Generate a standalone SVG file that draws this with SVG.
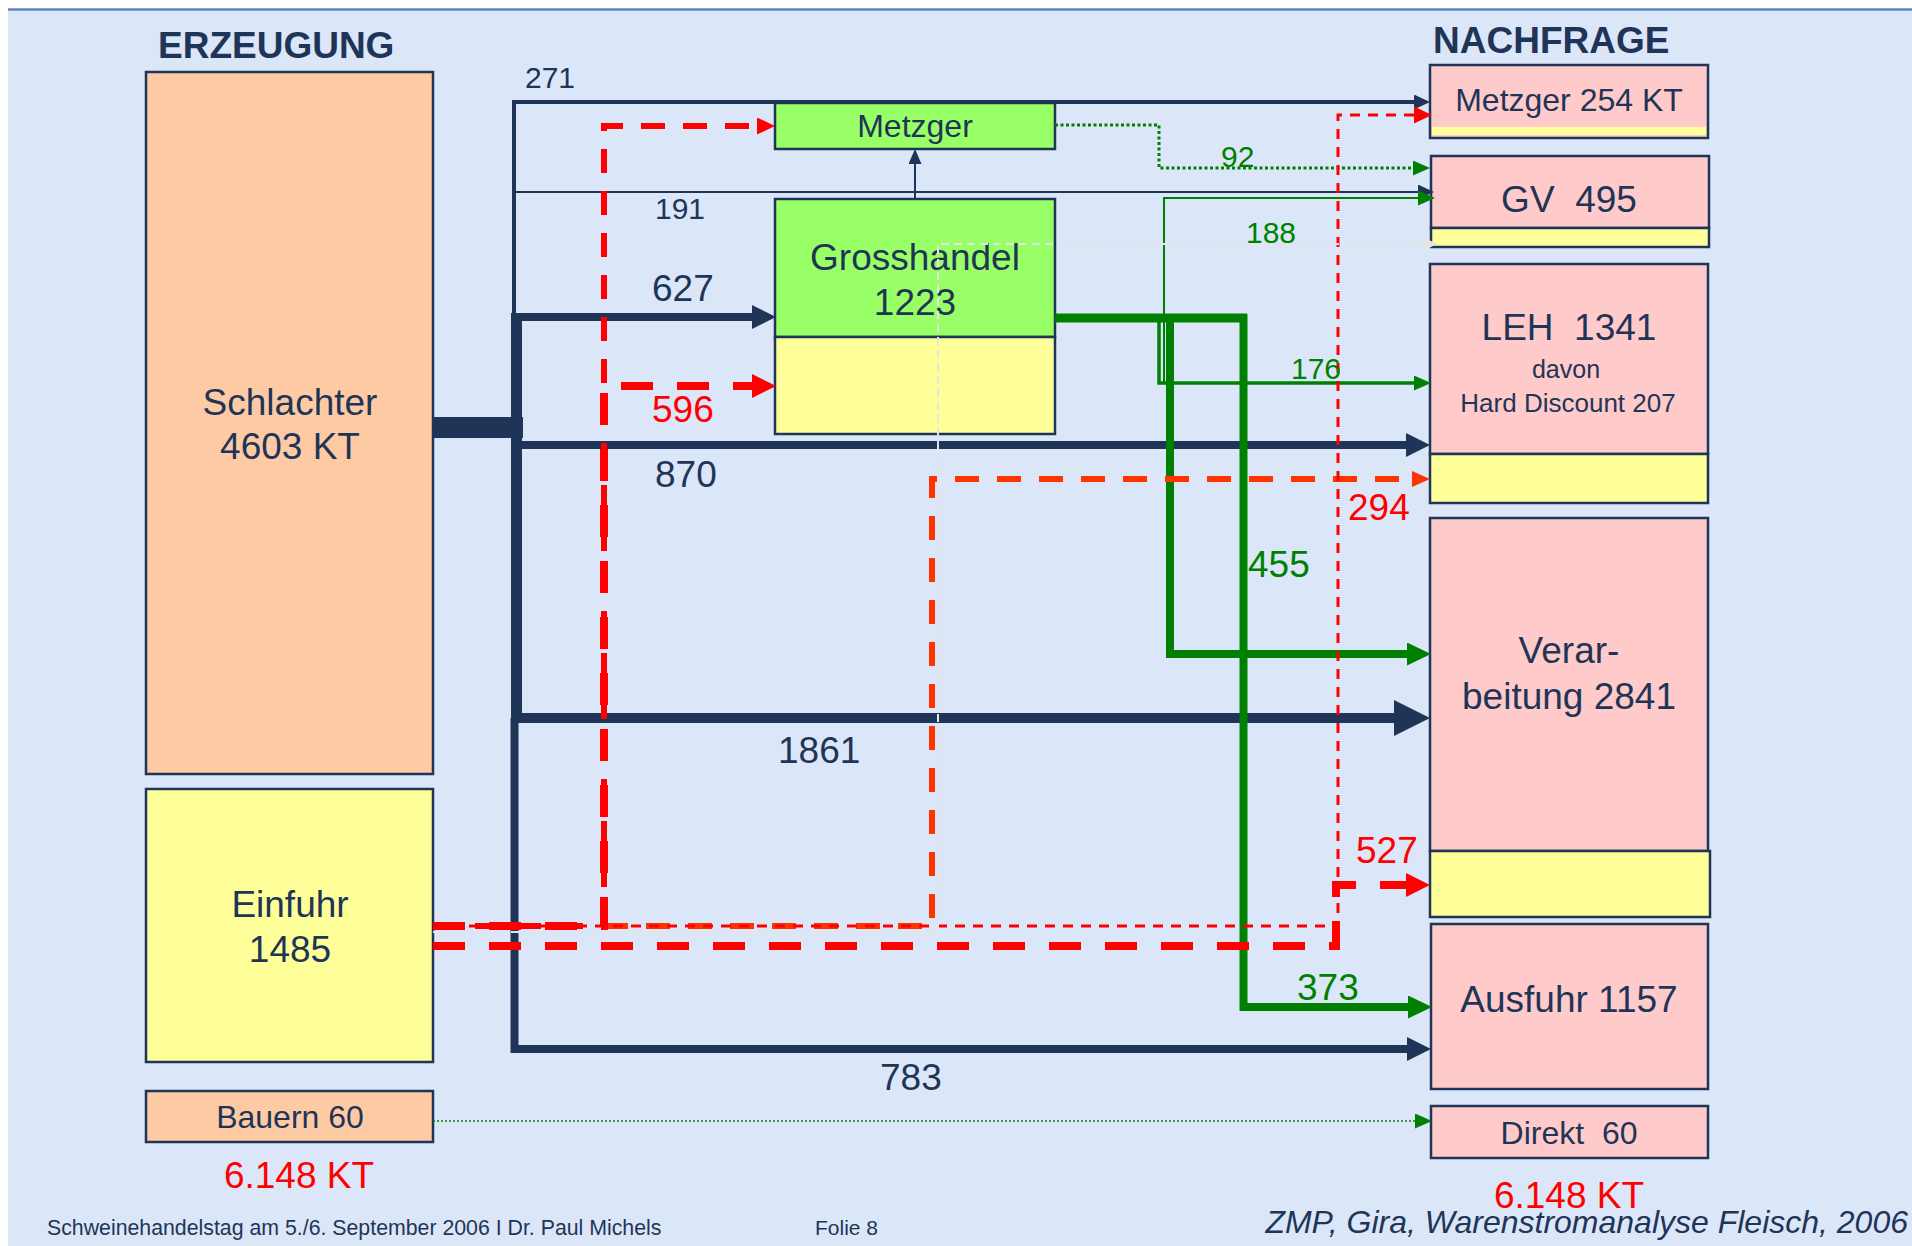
<svg xmlns="http://www.w3.org/2000/svg" width="1912" height="1246" viewBox="0 0 1912 1246">
<style>
text{font-family:"Liberation Sans",Arial,sans-serif;fill:#1f3557}
.c{text-anchor:middle}
.f37{font-size:37px}.f32{font-size:32px}.f30{font-size:30px}.f26{font-size:26px}.f21{font-size:21.3px}
.b{font-weight:bold}
.red{fill:#ff0000}.grn{fill:#008000}
.box{stroke:#1f3557;stroke-width:2.5}
.peach{fill:#fdcaa4}.yel{fill:#ffff99}.lg{fill:#99ff66}.pink{fill:#ffcaca}
.nv{fill:none;stroke:#1f3557}
.gr{fill:none;stroke:#008000}
.rd{fill:none;stroke:#ff0000}
.or{fill:none;stroke:#ff3300}
.gy{fill:none;stroke:#e4e4e4}
</style>
<defs>
<marker id="nvS" markerUnits="userSpaceOnUse" viewBox="0 0 10 10" preserveAspectRatio="none" refX="0" refY="5" markerWidth="16" markerHeight="15" orient="auto"><path d="M0 0L10 5L0 10z" fill="#1f3557"/></marker>
<marker id="nvM" markerUnits="userSpaceOnUse" viewBox="0 0 10 10" preserveAspectRatio="none" refX="0" refY="5" markerWidth="24" markerHeight="24" orient="auto"><path d="M0 0L10 5L0 10z" fill="#1f3557"/></marker>
<marker id="nvL" markerUnits="userSpaceOnUse" viewBox="0 0 10 10" preserveAspectRatio="none" refX="0" refY="5" markerWidth="36" markerHeight="36" orient="auto"><path d="M0 0L10 5L0 10z" fill="#1f3557"/></marker>
<marker id="nvU" markerUnits="userSpaceOnUse" viewBox="0 0 10 10" preserveAspectRatio="none" refX="0" refY="5" markerWidth="15" markerHeight="13" orient="auto"><path d="M0 0L10 5L0 10z" fill="#1f3557"/></marker>
<marker id="grS" markerUnits="userSpaceOnUse" viewBox="0 0 10 10" preserveAspectRatio="none" refX="0" refY="5" markerWidth="17" markerHeight="15" orient="auto"><path d="M0 0L10 5L0 10z" fill="#008000"/></marker>
<marker id="grM" markerUnits="userSpaceOnUse" viewBox="0 0 10 10" preserveAspectRatio="none" refX="0" refY="5" markerWidth="24" markerHeight="23" orient="auto"><path d="M0 0L10 5L0 10z" fill="#008000"/></marker>
<marker id="rdS" markerUnits="userSpaceOnUse" viewBox="0 0 10 10" preserveAspectRatio="none" refX="0" refY="5" markerWidth="18" markerHeight="17" orient="auto"><path d="M0 0L10 5L0 10z" fill="#ff0000"/></marker>
<marker id="rdM" markerUnits="userSpaceOnUse" viewBox="0 0 10 10" preserveAspectRatio="none" refX="0" refY="5" markerWidth="24" markerHeight="24" orient="auto"><path d="M0 0L10 5L0 10z" fill="#ff0000"/></marker>
<marker id="orS" markerUnits="userSpaceOnUse" viewBox="0 0 10 10" preserveAspectRatio="none" refX="0" refY="5" markerWidth="18" markerHeight="16" orient="auto"><path d="M0 0L10 5L0 10z" fill="#ff3300"/></marker>
<marker id="gyS" markerUnits="userSpaceOnUse" viewBox="0 0 10 10" preserveAspectRatio="none" refX="0" refY="5" markerWidth="15" markerHeight="15" orient="auto"><path d="M0 0L10 5L0 10z" fill="#e4e4e4"/></marker>
</defs>

<rect x="0" y="0" width="1912" height="1246" fill="#ffffff"/>
<rect x="8" y="10" width="1904" height="1236" fill="#dbe7f9"/>
<line x1="8" y1="9.5" x2="1912" y2="9.5" stroke="#6283c3" stroke-width="2.4"/>

<g id="title-erzeugung"><text x="158" y="58" class="f37 b">ERZEUGUNG</text></g>
<g id="title-nachfrage"><text x="1433" y="53" class="f37 b">NACHFRAGE</text></g>

<g id="schlachter">
<rect x="146" y="72" width="287" height="702" class="box peach"/>
<text x="290" y="415" class="c f37">Schlachter</text>
<text x="290" y="459" class="c f37">4603 KT</text>
</g>
<g id="einfuhr">
<rect x="146" y="789" width="287" height="273" class="box yel"/>
<text x="290" y="917" class="c f37">Einfuhr</text>
<text x="290" y="962" class="c f37">1485</text>
</g>
<g id="bauern">
<rect x="146" y="1091" width="287" height="51" class="box peach"/>
<text x="290" y="1128" class="c f32">Bauern 60</text>
</g>
<g id="total-erzeugung"><text x="299" y="1188" class="c f37 red">6.148 KT</text></g>

<g id="metzger-mitte">
<rect x="775" y="103" width="280" height="46" class="box lg"/>
<text x="915" y="137" class="c f32">Metzger</text>
</g>
<g id="grosshandel">
<rect x="775" y="199" width="280" height="138" class="box lg"/>
<rect x="775" y="337" width="280" height="97" class="box yel"/>
<text x="915" y="270" class="c f37">Grosshandel</text>
<text x="915" y="315" class="c f37">1223</text>
</g>

<g id="metzger-254">
<rect x="1430" y="65" width="278" height="73" class="box pink"/>
<rect x="1432" y="127" width="274" height="8" fill="#ffff99"/>
<text x="1569" y="111" class="c f32">Metzger 254 KT</text>
</g>
<g id="gv">
<rect x="1431" y="156" width="278" height="72" class="box pink"/>
<rect x="1431" y="228" width="278" height="19" class="box yel"/>
<text x="1569" y="212" class="c f37">GV&#160; 495</text>
</g>
<g id="leh">
<rect x="1430" y="264" width="278" height="190" class="box pink"/>
<rect x="1430" y="454" width="278" height="49" class="box yel"/>
<text x="1569" y="340" class="c f37">LEH&#160; 1341</text>
<text x="1566" y="378" class="c" style="font-size:25px">davon</text>
<text x="1568" y="412" class="c f26">Hard Discount 207</text>
</g>
<g id="verarbeitung">
<rect x="1430" y="518" width="278" height="333" class="box pink"/>
<rect x="1430" y="851" width="280" height="66" class="box yel"/>
<text x="1569" y="663" class="c f37">Verar-</text>
<text x="1569" y="709" class="c f37">beitung 2841</text>
</g>
<g id="ausfuhr">
<rect x="1431" y="924" width="277" height="165" class="box pink"/>
<text x="1569" y="1012" class="c f37">Ausfuhr 1157</text>
</g>
<g id="direkt">
<rect x="1431" y="1106" width="277" height="52" class="box pink"/>
<text x="1569" y="1144" class="c f32">Direkt&#160; 60</text>
</g>
<g id="total-nachfrage"><text x="1569" y="1208" class="c f37 red">6.148 KT</text></g>

<g id="connectors">
<!-- navy flows from Schlachter -->
<rect x="433" y="417" width="90" height="21" fill="#1f3557"/>
<path class="nv" stroke-width="4" d="M514 317V102H1414" marker-end="url(#nvS)"/>
<path class="nv" stroke-width="2" d="M514 192H1418" marker-end="url(#nvS)"/>
<path class="nv" stroke-width="11" d="M516.5 313V722"/>
<path class="nv" stroke-width="8" d="M514 317H752" marker-end="url(#nvM)"/>
<path class="nv" stroke-width="8" d="M516 445H1406" marker-end="url(#nvM)"/>
<path class="nv" stroke-width="10" d="M516 718H1394" marker-end="url(#nvL)"/>
<path class="nv" stroke-width="8" d="M514.5 718V1049H1407" marker-end="url(#nvM)"/>
<path class="nv" stroke-width="2" d="M915 199V164" marker-end="url(#nvU)"/>
<!-- green flows -->
<path class="gr" stroke-width="9" d="M1055 318H1247"/>
<path class="gr" stroke-width="8" d="M1170 318V654H1407" marker-end="url(#grM)"/>
<path class="gr" stroke-width="8" d="M1243.5 314V1007H1408" marker-end="url(#grM)"/>
<path class="gr" stroke-width="2" d="M1164 383V198H1418" marker-end="url(#grS)"/>
<path class="gr" stroke-width="3.5" d="M1159 318V383H1414" marker-end="url(#grS)"/>
<path class="gr" stroke-width="3" stroke-dasharray="3 2.5" d="M1055 125H1159V168H1413" marker-end="url(#grS)"/>
<path class="gr" stroke-width="1.5" stroke-dasharray="2 2" d="M433 1121H1415" marker-end="url(#grS)"/>
<!-- red import flows -->
<path class="or" stroke-width="6" stroke-dasharray="24 18" d="M604 926H932V479H1412" marker-end="url(#orS)"/>
<path class="rd" stroke-width="3" stroke-dasharray="10 8" d="M433 926H1338V115H1414" marker-end="url(#rdS)"/>
<path class="rd" stroke-width="6" stroke-dasharray="24 18" d="M433 926H604V126H757" marker-end="url(#rdS)"/>
<path class="rd" stroke-width="8" stroke-dasharray="32 24" d="M433 926H604V386H752" marker-end="url(#rdM)"/>
<path class="rd" stroke-width="8" stroke-dasharray="32 24" d="M433 946H1336V885H1406" marker-end="url(#rdM)"/>
<!-- faint flow -->
<path class="gy" stroke-width="2" stroke-dasharray="8 5" d="M433 932H938V244H1422" marker-end="url(#gyS)"/>
</g>

<g id="connector-labels">
<text x="525" y="88" class="f30">271</text>
<text x="655" y="219" class="f30">191</text>
<text x="652" y="301" class="f37">627</text>
<text x="652" y="422" class="f37 red">596</text>
<text x="655" y="487" class="f37">870</text>
<text x="778" y="763" class="f37">1861</text>
<text x="880" y="1090" class="f37">783</text>
<text x="1221" y="167" class="f30 grn">92</text>
<text x="1246" y="243" class="f30 grn">188</text>
<text x="1291" y="379" class="f30 grn">176</text>
<text x="1248" y="577" class="f37 grn">455</text>
<text x="1297" y="1000" class="f37 grn">373</text>
<text x="1348" y="520" class="f37 red">294</text>
<text x="1356" y="863" class="f37 red">527</text>
</g>

<g id="footer">
<text x="47" y="1235" class="f21">Schweinehandelstag am 5./6. September 2006 I Dr. Paul Michels</text>
<text x="815" y="1235" style="font-size:21px">Folie 8</text>
<text x="1908" y="1233" style="font-size:32px;font-style:italic;text-anchor:end">ZMP, Gira, Warenstromanalyse Fleisch, 2006</text>
</g>
</svg>
